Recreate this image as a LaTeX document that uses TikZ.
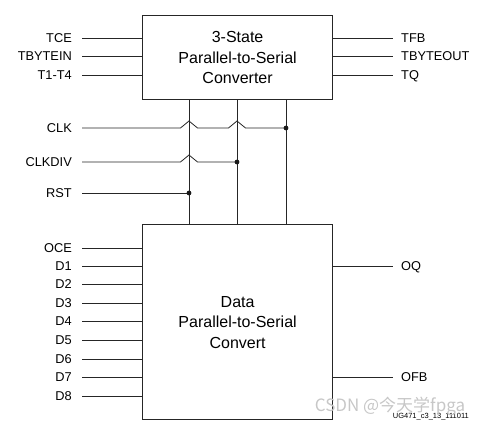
\documentclass[tikz,border=0pt]{standalone}
\usepackage{fontspec}
\setmainfont{Liberation Sans}
\newfontfamily\cjk{Noto Sans CJK SC}
\begin{document}
\begin{tikzpicture}[x=1pt,y=-1pt,
  lab/.style={inner sep=0pt, text height=9.2pt, text depth=0pt, font=\fontsize{12.8}{15}\selectfont},
  wire/.style={line width=0.8pt, black!85},
  blk/.style={draw, line width=1.2pt, black!85, align=center, font=\fontsize{16}{20.5}\selectfont, text=black},
  dot/.style={fill=black!90}]
\useasboundingbox (0,0) rectangle (487,427);
% boxes
\node[blk, minimum width=190pt, minimum height=84pt, anchor=north west] (t) at (142,15) {3-State\\Parallel-to-Serial\\Converter};
\node[blk, minimum width=190pt, minimum height=195pt, anchor=north west] (b) at (142,224) {Data\\Parallel-to-Serial\\Convert};
% vertical wire x positions
\coordinate (v1) at (189,0);
\coordinate (v2) at (237,0);
\coordinate (v3) at (286,0);
% left inputs, top box
\foreach \n/\t/\y in {tce/TCE/38, tbi/TBYTEIN/56, tt/T1-T4/75}{
  \node[lab, anchor=east] (\n) at (72,\y) {\t};
  \draw[wire] ([xshift=10pt]\n.east) -- (\n.east -| t.west);
}
% right outputs, top box
\foreach \n/\t/\y in {tfb/TFB/38, tbo/TBYTEOUT/56, tq/TQ/75}{
  \node[lab, anchor=west] (\n) at (401,\y) {\t};
  \draw[wire] (\n.west -| t.east) -- ([xshift=-8pt]\n.west);
}
% bottom box inputs
\foreach \n/\t/\y in {oce/OCE/248, d1/D1/266, d2/D2/284, d3/D3/303, d4/D4/321, d5/D5/340, d6/D6/359, d7/D7/377, d8/D8/396}{
  \node[lab, anchor=east] (\n) at (72,\y) {\t};
  \draw[wire] ([xshift=10pt]\n.east) -- (\n.east -| b.west);
}
% bottom box outputs
\foreach \n/\t/\y in {oq/OQ/266, ofb/OFB/377}{
  \node[lab, anchor=west] (\n) at (401,\y) {\t};
  \draw[wire] (\n.west -| b.east) -- ([xshift=-8pt]\n.west);
}
% vertical wires
\draw[wire] (t.south -| v1) -- (b.north -| v1);
\draw[wire] (t.south -| v2) -- (b.north -| v2);
\draw[wire] (t.south -| v3) -- (b.north -| v3);
% control inputs
\node[lab, anchor=east] (clk) at (72,128) {CLK};
\node[lab, anchor=east] (clkdiv) at (72,162) {CLKDIV};
\node[lab, anchor=east] (rst) at (72,193) {RST};
\draw[wire] ([xshift=10pt]clk.east) -- ([xshift=-8.5pt]clk.east -| v1) -- ++(8.5,-7) -- ++(8.5,7)
  -- ([xshift=-8.5pt]clk.east -| v2) -- ++(8.5,-7) -- ++(8.5,7) -- (clk.east -| v3);
\draw[wire] ([xshift=10pt]clkdiv.east) -- ([xshift=-8.5pt]clkdiv.east -| v1) -- ++(8.5,-7) -- ++(8.5,7)
  -- (clkdiv.east -| v2);
\draw[wire] ([xshift=10pt]rst.east) -- (rst.east -| v1);
\fill[dot] (clk.east -| v3) circle (2.4pt);
\fill[dot] (clkdiv.east -| v2) circle (2.4pt);
\fill[dot] (rst.east -| v1) circle (2.4pt);
% figure id
\node[inner sep=0pt, anchor=east, font=\fontsize{7.5}{8}\selectfont] (fid) at (469,417) {UG471\_c3\_13\_111011};
% watermark
\node[inner sep=0pt, text=black!22, font=\cjk\fontsize{17}{18}\selectfont] (wm) at (390,406) {CSDN @今天学fpga};
\end{tikzpicture}
\end{document}
